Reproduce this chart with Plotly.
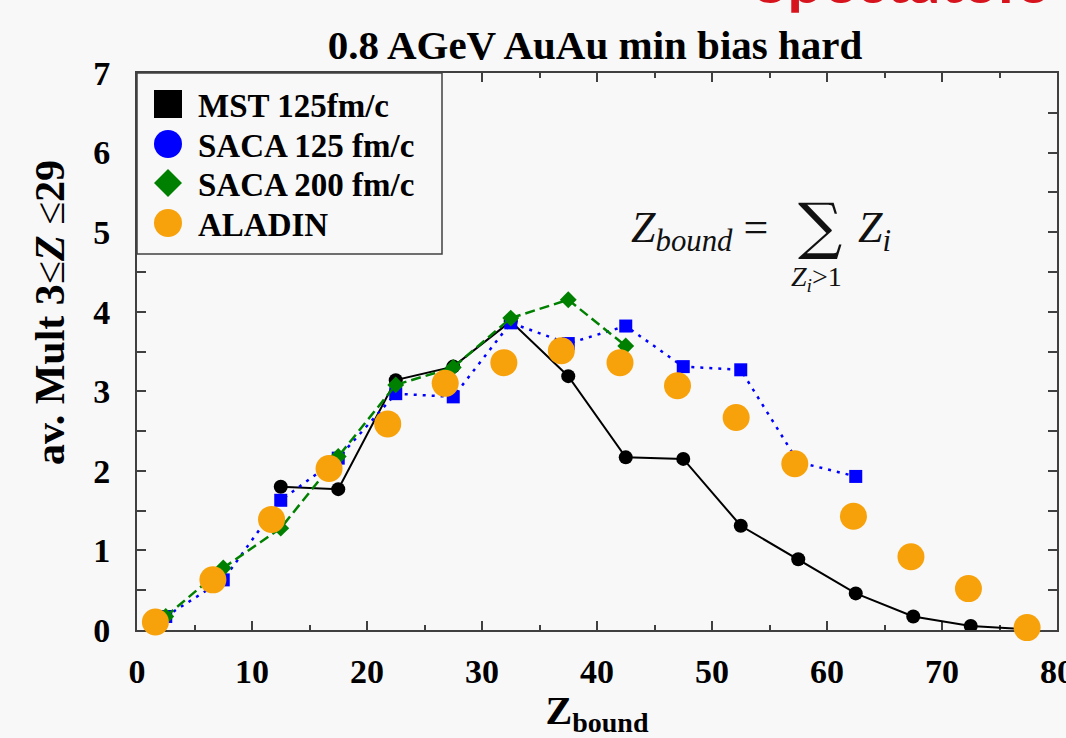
import plotly.graph_objects as go

# ---- data ----
mst_x = [12.5, 17.5, 22.5, 27.5, 32.5, 37.5, 42.5, 47.5, 52.5, 57.5, 62.5, 67.5, 72.5, 77.5]
mst_y = [1.80, 1.77, 3.14, 3.31, 3.88, 3.19, 2.17, 2.15, 1.31, 0.89, 0.46, 0.17, 0.05, 0.01]

saca125_x = [2.5, 7.5, 12.5, 17.5, 22.5, 27.5, 32.5, 37.5, 42.5, 47.5, 52.5, 57.5, 62.5]
saca125_y = [0.17, 0.63, 1.63, 2.16, 2.97, 2.93, 3.86, 3.60, 3.82, 3.31, 3.27, 2.11, 1.93]

saca200_x = [2.5, 7.5, 12.5, 17.5, 22.5, 27.5, 32.5, 37.5, 42.5]
saca200_y = [0.17, 0.78, 1.28, 2.18, 3.08, 3.30, 3.92, 4.15, 3.57]

aladin_x = [1.6, 6.6, 11.7, 16.7, 21.8, 26.8, 31.9, 36.9, 42.0, 47.0, 52.1, 57.2, 62.3, 67.3, 72.3, 77.4]
aladin_y = [0.10, 0.63, 1.39, 2.03, 2.59, 3.10, 3.36, 3.51, 3.36, 3.07, 2.67, 2.09, 1.43, 0.92, 0.52, 0.03]

names = ["MST 125fm/c", "SACA 125 fm/c", "SACA 200 fm/c", "ALADIN"]
x_ticks = [0, 10, 20, 30, 40, 50, 60, 70, 80]
y_ticks = [0, 1, 2, 3, 4, 5, 6, 7]

BLACK = "#000000"
BLUE = "#0000ff"
GREEN = "#008000"
ORANGE = "#f7a10b"
AXIS = "#404040"
BG = "#f8f8f8"
SERIF = "Liberation Serif"

# plot-area geometry (pixels) used to place decorations in paper coordinates
L, R, T, B = 137, 1057, 73, 630


def px(xp):
    return (xp - L) / (R - L)


def py(yp):
    return (B - yp) / (B - T)


fig = go.Figure()

fig.add_trace(go.Scatter(x=mst_x, y=mst_y, mode="lines+markers", name=names[0],
                         line=dict(color=BLACK, width=2),
                         marker=dict(symbol="circle", size=14, color=BLACK)))
fig.add_trace(go.Scatter(x=saca125_x, y=saca125_y, mode="lines+markers", name=names[1],
                         line=dict(color=BLUE, width=2.5, dash="3px,6px"),
                         marker=dict(symbol="square", size=13, color=BLUE)))
fig.add_trace(go.Scatter(x=saca200_x, y=saca200_y, mode="lines+markers", name=names[2],
                         line=dict(color=GREEN, width=2.5, dash="10px,5px"),
                         marker=dict(symbol="diamond", size=13, color=GREEN)))
fig.add_trace(go.Scatter(x=aladin_x, y=aladin_y, mode="markers", name=names[3],
                         cliponaxis=False,
                         marker=dict(symbol="circle", size=27, color=ORANGE)))

axis_common = dict(
    showline=True, linecolor=AXIS, linewidth=2, mirror="ticks",
    ticks="inside", tickcolor=AXIS, tickwidth=1.5, ticklen=9,
    showgrid=False, zeroline=False, layer="below traces",
    ticklabeloverflow="allow", automargin=False,
    tickfont=dict(family=SERIF, size=34, color="black", weight="bold"),
)

fig.update_layout(
    width=1066, height=738,
    paper_bgcolor=BG, plot_bgcolor=BG,
    margin=dict(l=L, r=1066 - R, t=T, b=738 - B),
    showlegend=False,
    title=dict(text="0.8 AGeV AuAu min bias hard", x=595 / 1066, xref="container",
               xanchor="center", y=1 - 45 / 738, yanchor="middle",
               font=dict(family=SERIF, size=41, color="black", weight="bold")),
    xaxis=dict(range=[0, 80], tickvals=x_ticks, ticklabelstandoff=10,
               minor=dict(dtick=5, ticks="inside", ticklen=5, tickcolor=AXIS, tickwidth=1.5),
               title=dict(text="Z<sub>bound</sub>", standoff=16,
                          font=dict(family=SERIF, size=40, color="black", weight="bold")),
               **axis_common),
    yaxis=dict(range=[0, 7], tickvals=y_ticks, ticklabelstandoff=18,
               minor=dict(dtick=0.5, ticks="inside", ticklen=9, tickcolor=AXIS, tickwidth=1.5),
               **axis_common),
)

# ---- legend box (drawn to match the reference's large legend symbols) ----
shapes = [dict(type="rect", xref="paper", yref="paper", x0=px(137), x1=px(442),
               y0=py(254), y1=py(73), line=dict(color=AXIS, width=1.5), fillcolor=BG,
               layer="above")]
leg_rows = [104, 144, 183, 223]
mx = 168
half = 14
# square (MST)
shapes.append(dict(type="rect", xref="paper", yref="paper",
                   x0=px(mx - half), x1=px(mx + half),
                   y0=py(leg_rows[0] + half), y1=py(leg_rows[0] - half),
                   line=dict(width=0), fillcolor=BLACK, layer="above"))
# circle (SACA 125)
shapes.append(dict(type="circle", xref="paper", yref="paper",
                   x0=px(mx - half), x1=px(mx + half),
                   y0=py(leg_rows[1] + half), y1=py(leg_rows[1] - half),
                   line=dict(width=0), fillcolor=BLUE, layer="above"))
# diamond (SACA 200)
r2 = leg_rows[2]
shapes.append(dict(type="path", xref="paper", yref="paper",
                   path=f"M {px(mx)} {py(r2 - half)} L {px(mx + half)} {py(r2)} "
                        f"L {px(mx)} {py(r2 + half)} L {px(mx - half)} {py(r2)} Z",
                   line=dict(width=0), fillcolor=GREEN, layer="above"))
# circle (ALADIN)
shapes.append(dict(type="circle", xref="paper", yref="paper",
                   x0=px(mx - half), x1=px(mx + half),
                   y0=py(leg_rows[3] + half), y1=py(leg_rows[3] - half),
                   line=dict(width=0), fillcolor=ORANGE, layer="above"))
fig.update_layout(shapes=shapes)

for nm, ry in zip(names, leg_rows):
    fig.add_annotation(xref="paper", yref="paper", x=px(196), y=py(ry + 2),
                       xanchor="left", yanchor="middle", showarrow=False, text=nm,
                       font=dict(family=SERIF, size=33, color="black", weight="bold"))

# y-axis title (placed off-centre as in the reference)
fig.add_annotation(
    xref="paper", yref="paper", x=px(50), y=py(313),
    xanchor="center", yanchor="middle", textangle=-90, showarrow=False,
    text="av. Mult 3<span style='font-weight:normal'>≤</span><i>Z</i> "
         "<span style='font-weight:normal'>≤</span>29",
    font=dict(family=SERIF, size=42, color="black", weight="bold"),
)

# formula  Z_bound = sum_{Z_i>1} Z_i
fig.add_annotation(xref="paper", yref="paper", x=px(770), y=py(230),
                   xanchor="right", yanchor="middle", showarrow=False,
                   text="<i>Z</i><sub><i>bound</i></sub> =",
                   font=dict(family=SERIF, size=44, color="#111111"))
fig.add_annotation(xref="paper", yref="paper", x=px(820), y=py(226),
                   xanchor="center", yanchor="middle", showarrow=False,
                   text="∑", font=dict(family="DejaVu Serif", size=62, color="#111111"))
fig.add_annotation(xref="paper", yref="paper", x=px(856), y=py(230),
                   xanchor="left", yanchor="middle", showarrow=False,
                   text="<i>Z</i><sub><i>i</i></sub>",
                   font=dict(family=SERIF, size=44, color="#111111"))
fig.add_annotation(xref="paper", yref="paper", x=px(816), y=py(278),
                   xanchor="center", yanchor="middle", showarrow=False,
                   text="<i>Z<sub>i</sub></i>>1",
                   font=dict(family=SERIF, size=28, color="#111111"))

# red heading cut at the top of the slide
fig.add_annotation(xref="paper", yref="paper", x=px(752), y=1 + (T - 18) / (B - T),
                   xanchor="left", yanchor="bottom", showarrow=False,
                   text="Spectators",
                   font=dict(family="Lato", size=62, color="#d7141d", weight="bold"))

fig.write_html("out.html")
